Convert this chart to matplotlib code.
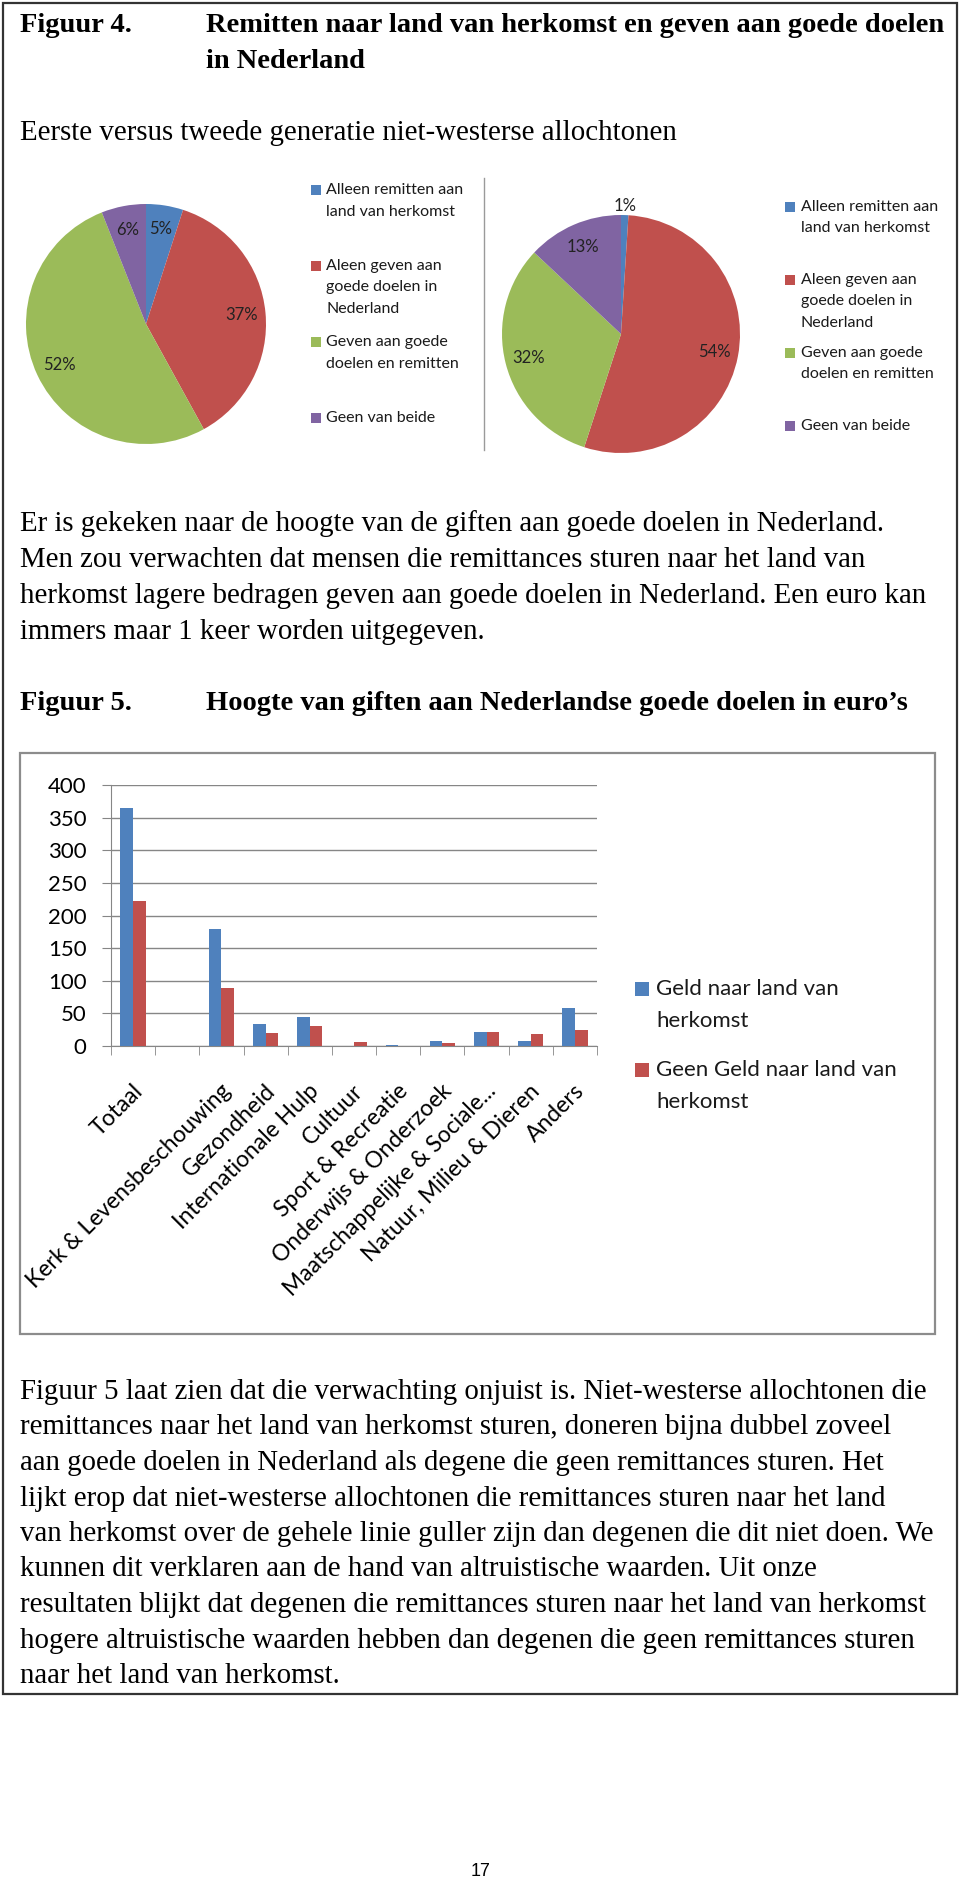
import matplotlib
matplotlib.use('Agg')
import matplotlib.pyplot as plt
from matplotlib.patches import Rectangle
from matplotlib.lines import Line2D
from matplotlib.transforms import ScaledTranslation
import numpy as np

# ---- data ----
pie_labels = ['Alleen remitten aan\nland van herkomst',
              'Aleen geven aan\ngoede doelen in\nNederland',
              'Geven aan goede\ndoelen en remitten',
              'Geen van beide']
pie_colors = ['#4F81BD', '#C0504D', '#9BBB59', '#8064A2']
eerste_gen = [5, 37, 52, 6]
tweede_gen = [1, 54, 32, 13]

categories = ['Totaal', '', 'Kerk & Levensbeschouwing', 'Gezondheid',
              'Internationale Hulp', 'Cultuur', 'Sport & Recreatie',
              'Onderwijs & Onderzoek', 'Maatschappelijke & Sociale...',
              'Natuur, Milieu & Dieren', 'Anders']
geld = [364, 0, 179, 34, 45, 0, 2, 8, 22, 8, 59]
geen_geld = [222, 0, 89, 20, 31, 6, 0, 4.5, 22, 19, 24]
bar_series = ['Geld naar land van\nherkomst', 'Geen Geld naar land van\nherkomst']
bar_colors = ['#4F81BD', '#C0504D']
yticks = [0, 50, 100, 150, 200, 250, 300, 350, 400]

fig4_title = ['Remitten naar land van herkomst en geven aan goede doelen', 'in Nederland']
fig4_sub = 'Eerste versus tweede generatie niet-westerse allochtonen'
para1 = ['Er is gekeken naar de hoogte van de giften aan goede doelen in Nederland.',
         'Men zou verwachten dat mensen die remittances sturen naar het land van',
         'herkomst lagere bedragen geven aan goede doelen in Nederland. Een euro kan',
         'immers maar 1 keer worden uitgegeven.']
fig5_title = 'Hoogte van giften aan Nederlandse goede doelen in euro\u2019s'
para2 = ['Figuur 5 laat zien dat die verwachting onjuist is. Niet-westerse allochtonen die',
         'remittances naar het land van herkomst sturen, doneren bijna dubbel zoveel',
         'aan goede doelen in Nederland als degene die geen remittances sturen. Het',
         'lijkt erop dat niet-westerse allochtonen die remittances sturen naar het land',
         'van herkomst over de gehele linie guller zijn dan degenen die dit niet doen. We',
         'kunnen dit verklaren aan de hand van altruistische waarden. Uit onze',
         'resultaten blijkt dat degenen die remittances sturen naar het land van herkomst',
         'hogere altruistische waarden hebben dan degenen die geen remittances sturen',
         'naar het land van herkomst.']

W, H = 960, 1880
SERIF = 'Liberation Serif'
SANS = 'Lato'
GRID = '#868686'
BODY = 20.8

fig = plt.figure(figsize=(W / 100, H / 100), dpi=100)


def fx(x):
    return x / W


def fy(y):
    return 1 - y / H


def put(x, y, s, **kw):
    kw.setdefault('va', 'center')
    return fig.text(fx(x), fy(y), s, **kw)


def box(x0, y0, x1, y1, **kw):
    fig.add_artist(Rectangle((fx(x0), fy(y1)), (x1 - x0) / W, (y1 - y0) / H,
                             transform=fig.transFigure, **kw))


def legend_block(sq_x, txt_x, ys, labels, colors, sq, step, size):
    for y, lab, c in zip(ys, labels, colors):
        box(sq_x - sq / 2, y - sq / 2, sq_x + sq / 2, y + sq / 2, color=c, lw=0)
        for j, line in enumerate(lab.split('\n')):
            put(txt_x, y + j * step, line, family=SANS, fontsize=size, color='#1a1a1a')


# page frame
box(3, 3, 957, 1694, fill=False, ec='#333333', lw=1.6)

# ---- header figure 4 ----
put(20, 25, 'Figuur 4.', family=SERIF, weight='bold', fontsize=20.5)
for i, line in enumerate(fig4_title):
    put(206, 25 + i * 36, line, family=SERIF, weight='bold', fontsize=20.5)
put(20, 133, fig4_sub, family=SERIF, fontsize=BODY)


# ---- pies ----
def draw_pie(cx, cy, r, values):
    ax = fig.add_axes([fx(cx - r), fy(cy + r), 2 * r / W, 2 * r / H])
    wedges, _, autotexts = ax.pie(values, colors=pie_colors, startangle=90,
                                  counterclock=False, autopct=lambda p: '%.0f%%' % p,
                                  pctdistance=0.8, wedgeprops=dict(linewidth=0),
                                  textprops=dict(family=SANS, fontsize=12, color='#222222'))
    ax.set_xlim(-1, 1)
    ax.set_ylim(-1, 1)
    return wedges, autotexts


draw_pie(146, 324, 120, eerste_gen)
w2, t2 = draw_pie(621, 334, 119, tweede_gen)
# smallest slice gets its label just outside the pie
ang = np.deg2rad((w2[0].theta1 + w2[0].theta2) / 2)
t2[0].set_position((1.08 * np.cos(ang), 1.08 * np.sin(ang)))

legend_block(316, 326, [190, 266, 342, 418], pie_labels, pie_colors, 9.5, 21.5, 11.5)
legend_block(790, 801, [207, 280, 353, 426], pie_labels, pie_colors, 9.5, 21.5, 11.5)
fig.add_artist(Line2D([fx(484), fx(484)], [fy(178), fy(450)], transform=fig.transFigure,
                      color='#9a9a9a', lw=1))

# ---- paragraph 1 and figure 5 title ----
for i, line in enumerate(para1):
    put(20, 524 + i * 36, line, family=SERIF, fontsize=BODY)
put(20, 703, 'Figuur 5.', family=SERIF, weight='bold', fontsize=20.5)
put(206, 703, fig5_title, family=SERIF, weight='bold', fontsize=20.5)

# ---- bar chart ----
box(20, 753, 935, 1334, fill=False, ec='#8c8c8c', lw=1.6)
ax = fig.add_axes([fx(111), fy(1046), (597 - 111) / W, (1046 - 785) / H])
x = np.arange(len(categories))
bw = 1 / 3.5
ax.bar(x - bw / 2, geld, bw, color=bar_colors[0], zorder=3)
ax.bar(x + bw / 2, geen_geld, bw, color=bar_colors[1], zorder=3)
ax.set_xlim(-0.5, len(categories) - 0.5)
ax.set_ylim(0, 400)
ax.set_yticks(yticks)
ax.yaxis.grid(True, color=GRID, lw=1)
ax.set_axisbelow(True)
for s in ['top', 'right']:
    ax.spines[s].set_visible(False)
for s in ['left', 'bottom']:
    ax.spines[s].set_color(GRID)
ax.tick_params(axis='y', length=6.5, color=GRID, pad=11, labelsize=16)
for lab in ax.get_yticklabels():
    lab.set_family(SANS)
ax.set_xticks(x)
ax.set_xticks(np.arange(-0.5, len(categories), 1), minor=True)
ax.tick_params(axis='x', which='major', length=0, pad=30)
ax.tick_params(axis='x', which='minor', length=6.5, color=GRID)
ax.set_xticklabels(categories, rotation=45, ha='right', va='center',
                   rotation_mode='anchor', family=SANS, fontsize=16.5)
for lab in ax.get_xticklabels():
    lab.set_transform(lab.get_transform() + ScaledTranslation(0.06, 0, fig.dpi_scale_trans))

legend_block(642, 656, [989, 1070], bar_series, bar_colors, 14, 32, 16)

# ---- paragraph 2 ----
for i, line in enumerate(para2):
    put(20, 1392 + i * 35.5, line, family=SERIF, fontsize=BODY)

put(481, 1872, '17', family='Liberation Sans', fontsize=13, ha='center')

fig.savefig('out.png', dpi=100)
